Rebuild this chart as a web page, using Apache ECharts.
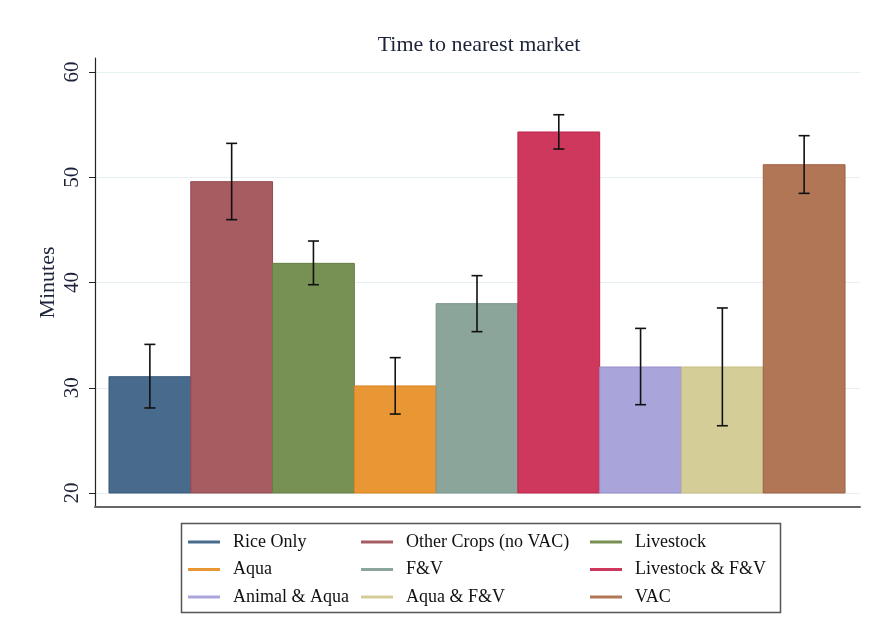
<!DOCTYPE html>
<html>
<head>
<meta charset="utf-8">
<script src="https://cdn.jsdelivr.net/npm/echarts@6/dist/echarts.min.js"></script>
<style>
  html, body { margin: 0; padding: 0; background: #fff; }
  #chart { width: 870px; height: 636px; }
</style>
</head>
<body>
<div id="chart"></div>
<script>
// Farm-system groups and mean travel time to the nearest market (minutes), with 95% CI
const categories = ['Rice Only', 'Other Crops (no VAC)', 'Livestock', 'Aqua', 'F&V',
                    'Livestock & F&V', 'Animal & Aqua', 'Aqua & F&V', 'VAC'];
const means  = [31.05, 49.58, 41.82, 30.17, 37.99, 54.30, 31.97, 31.97, 51.19];
const ciLow  = [28.08, 45.97, 39.79, 27.50, 35.33, 52.68, 28.39, 26.39, 48.47];
const ciHigh = [34.12, 53.22, 43.94, 32.86, 40.65, 55.94, 35.64, 37.58, 53.95];
const yTicks = [20, 30, 40, 50, 60];
const baseValue = 20;

const palette = ['#476a8d', '#a65c60', '#779155', '#e99734', '#8ba59b',
                 '#cd385c', '#a9a4d9', '#d5cd97', '#b07656'];
const edges   = ['#3a5a7c', '#934a4f', '#657e44', '#d98420', '#7b968b',
                 '#c0264c', '#958fcc', '#c6bd82', '#a0603f'];

const serif = '"Liberation Serif", "DejaVu Serif", serif';

const barSeries = categories.map((name, i) => ({
  name: name,
  type: 'custom',
  itemStyle: { color: palette[i] },
  data: [[i, means[i]]],
  renderItem: function (params, api) {
    const x = api.value(0), v = api.value(1);
    const top = api.coord([x - 0.5, v]);
    const bot = api.coord([x + 0.5, baseValue]);
    return {
      type: 'rect',
      shape: { x: top[0], y: top[1], width: bot[0] - top[0], height: bot[1] - top[1] },
      style: { fill: palette[i], stroke: edges[i], lineWidth: 1 }
    };
  },
  z: 2
}));

const ciSeries = {
  name: 'ci',
  type: 'custom',
  data: categories.map((c, i) => [i, ciLow[i], ciHigh[i]]),
  renderItem: function (params, api) {
    const x = api.value(0);
    const lo = api.coord([x, api.value(1)]);
    const hi = api.coord([x, api.value(2)]);
    const cap = 5.5;
    const st = { stroke: '#111', lineWidth: 1.6 };
    return {
      type: 'group',
      children: [
        { type: 'line', shape: { x1: lo[0], y1: lo[1], x2: hi[0], y2: hi[1] }, style: st },
        { type: 'line', shape: { x1: lo[0] - cap, y1: lo[1], x2: lo[0] + cap, y2: lo[1] }, style: st },
        { type: 'line', shape: { x1: hi[0] - cap, y1: hi[1], x2: hi[0] + cap, y2: hi[1] }, style: st }
      ]
    };
  },
  z: 3
};

function legendColumn(left, names) {
  return {
    orient: 'vertical',
    left: left,
    top: 528,
    icon: 'rect',
    itemWidth: 32,
    itemHeight: 3,
    itemGap: 9.5,
    data: names,
    selectedMode: false,
    textStyle: { fontFamily: serif, fontSize: 18, color: '#111', padding: [0, 0, 0, 8] }
  };
}

const chart = echarts.init(document.getElementById('chart'), null, { renderer: 'canvas' });
chart.setOption({
  backgroundColor: '#fff',
  animation: false,
  title: {
    text: 'Time to nearest market',
    left: 474,
    textAlign: 'center',
    top: 29,
    textStyle: { fontFamily: serif, fontSize: 22, fontWeight: 'normal', color: '#1c2238' }
  },
  grid: { left: 95, right: 10, top: 58, bottom: 129 },
  xAxis: {
    type: 'value',
    min: -0.671,
    max: 8.683,
    axisLine: { show: true, onZero: false, lineStyle: { color: '#666', width: 2 } },
    axisTick: { show: false },
    axisLabel: { show: false },
    splitLine: { show: false }
  },
  yAxis: {
    type: 'value',
    min: 18.67,
    max: 61.33,
    name: 'Minutes',
    nameLocation: 'middle',
    nameGap: 36,
    nameMoveOverlap: false,
    nameRotate: 90,
    nameTextStyle: { fontFamily: serif, fontSize: 22, color: '#1c2238' },
    axisLine: { show: true, onZero: false, lineStyle: { color: '#222', width: 1.2 } },
    axisTick: { show: true, customValues: yTicks, length: 6, lineStyle: { color: '#222' } },
    axisLabel: {
      customValues: yTicks, rotate: 90, margin: 12,
      fontFamily: serif, fontSize: 21, color: '#1c2238'
    },
    splitLine: { show: true, lineStyle: { color: '#e6eff2', width: 1.2 } }
  },
  legend: [
    legendColumn(183, [categories[0], categories[3], categories[6]]),
    legendColumn(356, [categories[1], categories[4], categories[7]]),
    legendColumn(585, [categories[2], categories[5], categories[8]])
  ],
  graphic: [{
    type: 'rect',
    left: 179, top: 521,
    shape: { width: 599, height: 89 },
    style: { fill: 'none', stroke: '#555', lineWidth: 1.5 }
  }],
  series: barSeries.concat([ciSeries])
});
</script>
</body>
</html>
